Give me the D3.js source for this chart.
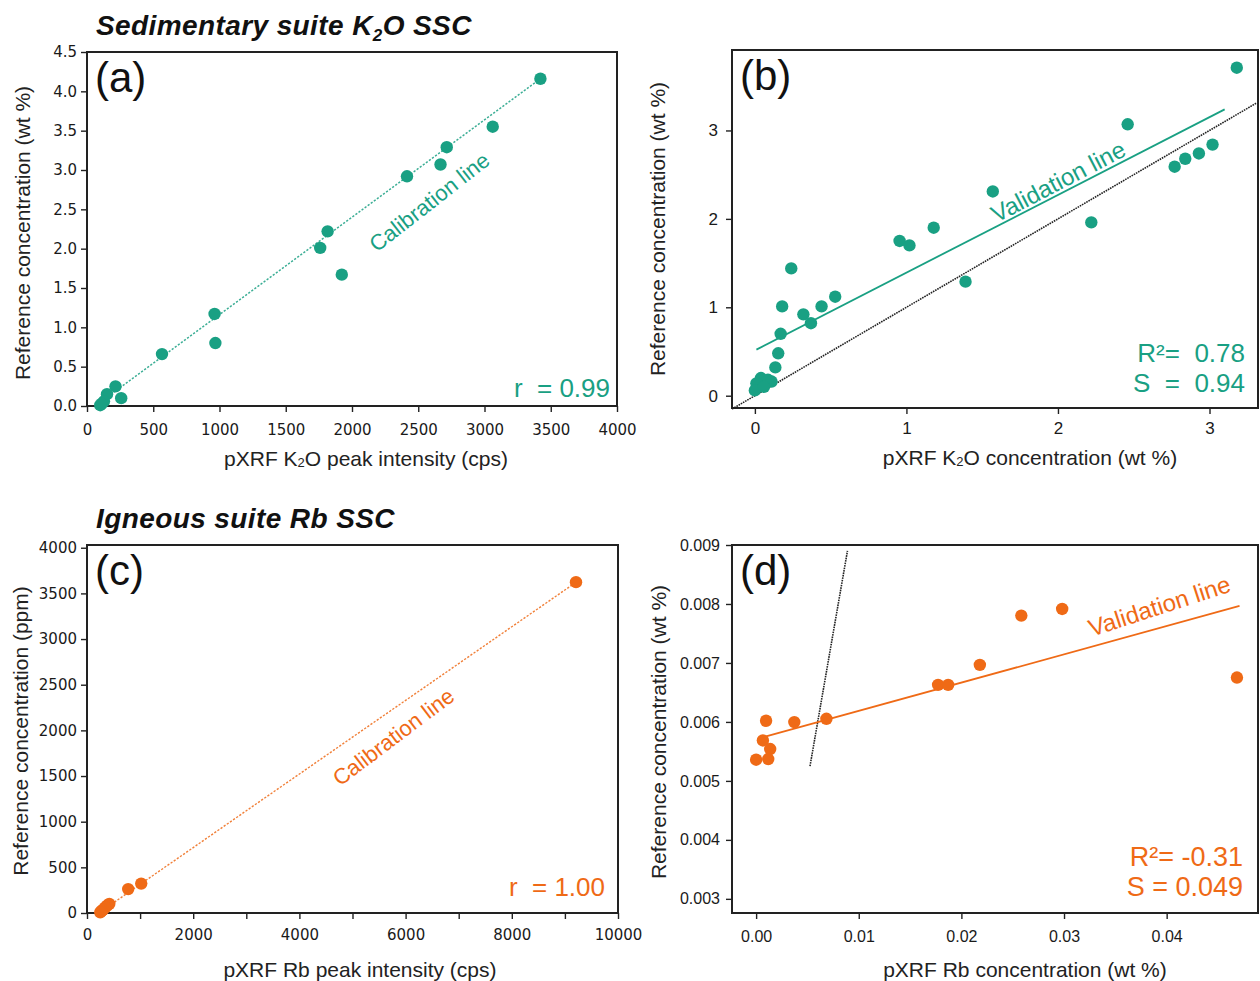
<!DOCTYPE html>
<html>
<head>
<meta charset="utf-8">
<script src="https://cdn.jsdelivr.net/npm/d3@7"></script>
<style>
  html, body { margin: 0; padding: 0; background: #fff; }
  svg { display: block; font-family: "Liberation Sans", Arial, sans-serif; }
  .pre { white-space: pre; }
</style>
</head>
<body>
<svg id="chart" width="1260" height="981"></svg>
<script>
// ---- Sedimentary suite K2O: calibration (a) ----
const aIntensity = [3422, 3062, 2715, 2668, 2415, 1816, 1760, 1923, 963, 969, 566, 215, 258, 151, 128, 100, 112];
const aReference = [4.16, 3.55, 3.29, 3.07, 2.92, 2.22, 2.01, 1.67, 1.17, 0.80, 0.66, 0.25, 0.10, 0.15, 0.06, 0.01, 0.03];
const aCalLineX = [62, 3425];
const aCalLine = { slope: 0.001238, intercept: -0.076 };
const aXTicks = [0, 500, 1000, 1500, 2000, 2500, 3000, 3500, 4000];
const aYTicks = [0, 0.5, 1, 1.5, 2, 2.5, 3, 3.5, 4, 4.5];

// ---- Sedimentary suite K2O: validation (b) ----
const bPxrf = [3.18, 2.46, 2.77, 2.84, 2.93, 3.02, 2.22, 1.57, 1.39, 1.18, 0.955, 1.02, 0.53, 0.44, 0.32, 0.37, 0.24, 0.18, 0.17, 0.154, 0.135, 0.04, 0.086, 0.01, 0.11, 0.0, 0.06];
const bReference = [3.71, 3.07, 2.59, 2.68, 2.74, 2.84, 1.96, 2.31, 1.29, 1.90, 1.75, 1.70, 1.12, 1.01, 0.92, 0.82, 1.44, 1.01, 0.70, 0.48, 0.32, 0.20, 0.18, 0.14, 0.16, 0.06, 0.10];
const bValLineX = [0.01, 3.1];
const bValLine = { slope: 0.879, intercept: 0.513 };
const bOneToOneX = [-0.15, 3.31];
const bTicks = [0, 1, 2, 3];

// ---- Igneous suite Rb: calibration (c) ----
const cIntensity = [9209, 1021, 776, 420, 380, 340, 300, 270, 250];
const cReference = [3623, 322, 262, 100, 82, 60, 35, 20, 8];
const cCalLineX = [222, 9209];
const cCalLine = { slope: 0.403, intercept: -89.5 };
const cXTicks = [0, 1000, 2000, 3000, 4000, 5000, 6000, 7000, 8000, 9000, 10000];
const cYTicks = [0, 500, 1000, 1500, 2000, 2500, 3000, 3500, 4000];

// ---- Igneous suite Rb: validation (d) ----
const dPxrf = [0.04685, 0.02982, 0.02584, 0.0218, 0.01773, 0.01871, 0.00685, 0.00372, 0.00097, 0.00066, 0.00137, 0.00118, 0.0];
const dReference = [0.006753, 0.007916, 0.007803, 0.006968, 0.006629, 0.006629, 0.006053, 0.005997, 0.00602, 0.005686, 0.00554, 0.005371, 0.005359];
const dValLineX = [0.00097, 0.0471];
const dValLine = { slope: 0.04797, intercept: 0.005707 };
const dOneToOneX = [0.00525, 0.0089];
const dXTicks = [0, 0.01, 0.02, 0.03, 0.04];
const dYTicks = [0.003, 0.004, 0.005, 0.006, 0.007, 0.008, 0.009];

const TEAL = "#19a083";
const ORANGE = "#ef6a16";
const svg = d3.select("#chart");

function panel(cfg) {
  const x = d3.scaleLinear().domain(cfg.xDomain).range([cfg.left, cfg.right]);
  const y = d3.scaleLinear().domain(cfg.yDomain).range([cfg.bottom, cfg.top]);
  const g = svg.append("g");

  // axes
  const xAxis = d3.axisBottom(x).tickValues(cfg.xTicks).tickSize(6).tickSizeOuter(0)
    .tickPadding(cfg.xPad).tickFormat(cfg.xFormat);
  const yAxis = d3.axisLeft(y).tickValues(cfg.yTicks).tickSize(6).tickSizeOuter(0)
    .tickPadding(cfg.yPad).tickFormat(cfg.yFormat);
  const gx = g.append("g").attr("transform", `translate(0,${cfg.bottom})`).call(xAxis);
  const gy = g.append("g").attr("transform", `translate(${cfg.left},0)`).call(yAxis);
  [gx, gy].forEach(a => {
    a.select(".domain").remove();
    a.selectAll(".tick line").attr("stroke", "#222").attr("stroke-width", 1.4);
    a.selectAll(".tick text").attr("fill", "#1a1a1a")
      .style("font-family", cfg.tickFont).style("font-size", cfg.tickSize + "px");
  });

  // frame
  g.append("rect")
    .attr("x", cfg.left).attr("y", cfg.top)
    .attr("width", cfg.right - cfg.left).attr("height", cfg.bottom - cfg.top)
    .attr("fill", "none").attr("stroke", "#222").attr("stroke-width", 2);

  // reference 1:1 line
  if (cfg.oneToOne) {
    g.append("line")
      .attr("x1", x(cfg.oneToOne[0])).attr("y1", y(cfg.oneToOne[0]))
      .attr("x2", x(cfg.oneToOne[1])).attr("y2", y(cfg.oneToOne[1]))
      .attr("stroke", "#222").attr("stroke-width", 1.6).attr("stroke-dasharray", "1.6,0.9");
  }

  // fitted line
  const fx = cfg.fitX, f = cfg.fit;
  g.append("line")
    .attr("x1", x(fx[0])).attr("y1", y(f.intercept + f.slope * fx[0]))
    .attr("x2", x(fx[1])).attr("y2", y(f.intercept + f.slope * fx[1]))
    .attr("stroke", cfg.color).attr("stroke-width", cfg.fitDashed ? 1.4 : 1.8)
    .attr("stroke-dasharray", cfg.fitDashed ? "2.2,1.6" : null)
    .attr("opacity", cfg.fitDashed ? 0.85 : 1);

  // points
  g.selectAll("circle.pt").data(d3.zip(cfg.xs, cfg.ys)).join("circle")
    .attr("class", "pt")
    .attr("cx", d => x(d[0])).attr("cy", d => y(d[1]))
    .attr("r", 6.2).attr("fill", cfg.color);

  // line label along the fitted line
  g.append("text")
    .attr("transform", `translate(${cfg.lineLabel.x},${cfg.lineLabel.y}) rotate(${cfg.lineLabel.angle})`)
    .attr("text-anchor", "middle").attr("fill", cfg.color)
    .style("font-size", cfg.lineLabel.size + "px").text(cfg.lineLabel.text);

  // panel letter
  g.append("text").attr("x", cfg.left + 8).attr("y", cfg.top + 40)
    .style("font-size", "42px").attr("fill", "#111").text(cfg.letter);

  // statistics
  cfg.stats.forEach((s, i) => {
    g.append("text").attr("class", "pre")
      .attr("x", cfg.statsX).attr("y", cfg.statsY + i * 30)
      .attr("text-anchor", "end").attr("fill", cfg.color)
      .style("font-size", cfg.statsSize + "px").text(s);
  });

  // axis titles
  g.append("text")
    .attr("transform", `translate(${cfg.yLabelX},${cfg.yLabelY}) rotate(-90)`)
    .attr("text-anchor", "middle").attr("dominant-baseline", "central")
    .attr("fill", "#222").style("font-size", "21px").text(cfg.yLabel);
  const xl = g.append("text")
    .attr("x", cfg.xLabelX).attr("y", cfg.xLabelY)
    .attr("text-anchor", "middle").attr("fill", "#222").style("font-size", "21px");
  cfg.xLabel.forEach(part => {
    const t = xl.append("tspan").text(part.t);
    if (part.sub) t.style("font-size", "13px").attr("dy", 1);
    else if (part.after) t.attr("dy", -1);
  });
}

// suite titles
function title(xp, yp, parts) {
  const t = svg.append("text").attr("x", xp).attr("y", yp)
    .style("font-size", "28px").style("font-weight", "bold").style("font-style", "italic")
    .style("letter-spacing", "0.4px").attr("fill", "#111");
  parts.forEach(p => {
    const s = t.append("tspan").text(p.t);
    if (p.sub) s.style("font-size", "17px").attr("dy", 6);
    else if (p.after) s.attr("dy", -6);
  });
}
title(96, 35, [{ t: "Sedimentary suite K" }, { t: "2", sub: true }, { t: "O SSC", after: true }]);
title(96, 528, [{ t: "Igneous suite Rb SSC" }]);

const dejavu = "'DejaVu Sans', sans-serif";
const arial = "'Liberation Sans', Arial, sans-serif";

panel({
  left: 87, right: 617, top: 52, bottom: 406,
  xDomain: [0, 4000], yDomain: [0, 4.5],
  xTicks: aXTicks, yTicks: aYTicks, xPad: 12, yPad: 4,
  xFormat: d3.format("d"), yFormat: d3.format(".1f"),
  tickFont: dejavu, tickSize: 15,
  xs: aIntensity, ys: aReference, color: TEAL,
  fitX: aCalLineX, fit: aCalLine, fitDashed: true,
  lineLabel: { text: "Calibration line", x: 434, y: 208, angle: -38, size: 22 },
  letter: "(a)", stats: ["r  = 0.99"], statsX: 610, statsY: 397, statsSize: 26,
  yLabel: "Reference concentration (wt %)", yLabelX: 22, yLabelY: 233,
  xLabel: [{ t: "pXRF K" }, { t: "2", sub: true }, { t: "O peak intensity (cps)", after: true }],
  xLabelX: 366, xLabelY: 466
});

panel({
  left: 732, right: 1258, top: 50, bottom: 408,
  xDomain: [-0.151, 3.32], yDomain: [-0.139, 3.91],
  xTicks: bTicks, yTicks: bTicks, xPad: 8, yPad: 8,
  xFormat: d3.format("d"), yFormat: d3.format("d"),
  tickFont: arial, tickSize: 17,
  xs: bPxrf, ys: bReference, color: TEAL,
  fitX: bValLineX, fit: bValLine, fitDashed: false, oneToOne: bOneToOneX,
  lineLabel: { text: "Validation line", x: 1062, y: 189, angle: -27.5, size: 24 },
  letter: "(b)", stats: ["R²=  0.78", "S  =  0.94"], statsX: 1245, statsY: 362, statsSize: 26,
  yLabel: "Reference concentration (wt %)", yLabelX: 657, yLabelY: 229,
  xLabel: [{ t: "pXRF K" }, { t: "2", sub: true }, { t: "O concentration (wt %)", after: true }],
  xLabelX: 1030, xLabelY: 465
});

panel({
  left: 87, right: 618, top: 545, bottom: 913,
  xDomain: [0, 10000], yDomain: [0, 4030],
  xTicks: cXTicks, yTicks: cYTicks, xPad: 10, yPad: 4,
  xFormat: d => (d % 2000 === 0 ? d3.format("d")(d) : ""), yFormat: d3.format("d"),
  tickFont: dejavu, tickSize: 15,
  xs: cIntensity, ys: cReference, color: ORANGE,
  fitX: cCalLineX, fit: cCalLine, fitDashed: true,
  lineLabel: { text: "Calibration line", x: 398, y: 743, angle: -37, size: 22 },
  letter: "(c)", stats: ["r  = 1.00"], statsX: 605, statsY: 896, statsSize: 26,
  yLabel: "Reference concentration (ppm)", yLabelX: 20, yLabelY: 731,
  xLabel: [{ t: "pXRF Rb peak intensity (cps)" }],
  xLabelX: 360, xLabelY: 977
});

panel({
  left: 732, right: 1258, top: 545, bottom: 913,
  xDomain: [-0.00235, 0.0489], yDomain: [0.00276, 0.009],
  xTicks: dXTicks, yTicks: dYTicks, xPad: 12, yPad: 6,
  xFormat: d3.format(".2f"), yFormat: d3.format(".3f"),
  tickFont: arial, tickSize: 16,
  xs: dPxrf, ys: dReference, color: ORANGE,
  fitX: dValLineX, fit: dValLine, fitDashed: false, oneToOne: dOneToOneX,
  lineLabel: { text: "Validation line", x: 1162, y: 614, angle: -18, size: 24 },
  letter: "(d)", stats: ["R²= -0.31", "S = 0.049"], statsX: 1243, statsY: 866, statsSize: 27,
  yLabel: "Reference concentration (wt %)", yLabelX: 658, yLabelY: 732,
  xLabel: [{ t: "pXRF Rb concentration (wt %)" }],
  xLabelX: 1025, xLabelY: 977
});
</script>
</body>
</html>
